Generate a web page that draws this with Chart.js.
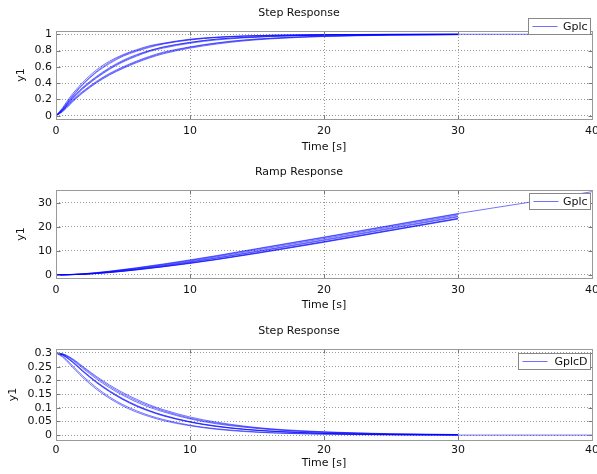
<!DOCTYPE html>
<html>
<head>
<meta charset="utf-8">
<script src="https://cdn.jsdelivr.net/npm/chart.js@4.4.0/dist/chart.umd.min.js"></script>
<style>
	body { margin: 0; background: #fff; }
	.plot { position: relative; width: 597px; height: 158px; }
</style>
</head>
<body>
<div class="plot"><canvas id="stepChart"></canvas></div>
<div class="plot"><canvas id="rampChart"></canvas></div>
<div class="plot"><canvas id="stepDChart"></canvas></div>
<script>
// tempos (s)
const tStep = [0, 0.5, 1, 1.5, 2, 3, 4, 5, 6, 7, 8, 10, 12, 14, 16, 18, 20, 25, 30];
const tStepLong = [0, 0.5, 1, 1.5, 2, 3, 4, 5, 6, 7, 8, 10, 12, 14, 16, 18, 20, 25, 30, 35, 40];
const tRamp = [0, 2, 4, 6, 8, 10, 12, 15, 20, 25, 30];
const tRampLong = [0, 2, 4, 6, 8, 10, 12, 15, 20, 25, 30, 35, 40];

const xTicks = [0, 10, 20, 30, 40];
const stepTicks = [0, 0.2, 0.4, 0.6, 0.8, 1];
const rampTicks = [0, 10, 20, 30];
const stepDTicks = [0, 0.05, 0.1, 0.15, 0.2, 0.25, 0.3];

// Step Response (Gplc)
const step1 = [0, 0.10, 0.22, 0.32, 0.41, 0.56, 0.67, 0.75, 0.81, 0.86, 0.89, 0.94, 0.965, 0.98, 0.988, 0.993, 0.996, 0.999, 1.0, 1.0, 1.0];
const step2 = [0, 0.08, 0.19, 0.29, 0.38, 0.53, 0.64, 0.73, 0.79, 0.84, 0.88, 0.93, 0.96, 0.975, 0.985, 0.99, 0.994, 0.998, 1.0];
const step3 = [0, 0.09, 0.20, 0.30, 0.39, 0.54, 0.655, 0.74, 0.80, 0.85, 0.885, 0.935, 0.962, 0.978, 0.987, 0.992, 0.995, 0.999, 1.0];
const step4 = [0, 0.07, 0.17, 0.26, 0.34, 0.47, 0.58, 0.67, 0.74, 0.80, 0.84, 0.90, 0.94, 0.96, 0.975, 0.985, 0.99, 0.997, 0.999];
const step5 = [0, 0.06, 0.16, 0.25, 0.33, 0.46, 0.57, 0.66, 0.73, 0.79, 0.83, 0.89, 0.93, 0.955, 0.972, 0.982, 0.988, 0.996, 0.999];
const step6 = [0, 0.08, 0.18, 0.27, 0.35, 0.48, 0.59, 0.68, 0.75, 0.80, 0.845, 0.90, 0.94, 0.962, 0.976, 0.985, 0.99, 0.997, 0.999];
const step7 = [0, 0.06, 0.14, 0.22, 0.29, 0.41, 0.51, 0.59, 0.66, 0.72, 0.77, 0.84, 0.89, 0.925, 0.948, 0.965, 0.976, 0.99, 0.996];
const step8 = [0, 0.05, 0.13, 0.21, 0.28, 0.40, 0.50, 0.58, 0.65, 0.71, 0.76, 0.83, 0.88, 0.918, 0.943, 0.96, 0.972, 0.988, 0.995];
const step9 = [0, 0.07, 0.15, 0.23, 0.30, 0.42, 0.52, 0.60, 0.67, 0.73, 0.78, 0.845, 0.895, 0.93, 0.952, 0.967, 0.978, 0.991, 0.997];

// Ramp Response (Gplc)
const ramp1 = [0, 0.5, 1.6, 3.0, 4.6, 6.3, 8.1, 11.0, 15.8, 20.7, 25.6, 30.0, 34.7];
const ramp2 = [0, 0.45, 1.5, 2.9, 4.4, 6.1, 7.9, 10.8, 15.6, 20.5, 25.4];
const ramp3 = [0, 0.4, 1.4, 2.7, 4.2, 5.8, 7.6, 10.4, 15.2, 20.1, 25.0];
const ramp4 = [0, 0.35, 1.3, 2.5, 3.9, 5.5, 7.2, 9.9, 14.7, 19.6, 24.5];
const ramp5 = [0, 0.33, 1.2, 2.4, 3.8, 5.3, 7.0, 9.7, 14.4, 19.3, 24.2];
const ramp6 = [0, 0.3, 1.1, 2.2, 3.5, 5.0, 6.6, 9.3, 13.9, 18.8, 23.6];
const ramp7 = [0, 0.28, 1.0, 2.1, 3.4, 4.8, 6.4, 9.0, 13.6, 18.5, 23.3];
const ramp8 = [0, 0.3, 1.05, 2.2, 3.5, 4.95, 6.5, 9.1, 13.8, 18.6, 23.5];

// Step Response (GplcD)
const stepD1 = [0.3, 0.285, 0.26, 0.235, 0.21, 0.168, 0.134, 0.106, 0.084, 0.067, 0.053, 0.034, 0.021, 0.013, 0.008, 0.005, 0.003, 0.001, 0, 0, 0];
const stepD2 = [0.3, 0.288, 0.265, 0.24, 0.216, 0.174, 0.139, 0.111, 0.089, 0.071, 0.057, 0.036, 0.023, 0.015, 0.009, 0.006, 0.004, 0.001, 0];
const stepD3 = [0.3, 0.292, 0.275, 0.254, 0.232, 0.192, 0.158, 0.129, 0.105, 0.086, 0.070, 0.047, 0.031, 0.021, 0.014, 0.009, 0.006, 0.002, 0.001];
const stepD4 = [0.3, 0.294, 0.278, 0.258, 0.236, 0.196, 0.162, 0.133, 0.109, 0.089, 0.073, 0.049, 0.033, 0.022, 0.015, 0.010, 0.007, 0.002, 0.001];
const stepD5 = [0.3, 0.293, 0.276, 0.256, 0.234, 0.194, 0.160, 0.131, 0.107, 0.088, 0.072, 0.048, 0.032, 0.021, 0.014, 0.010, 0.006, 0.002, 0.001];
const stepD6 = [0.3, 0.295, 0.282, 0.264, 0.244, 0.206, 0.173, 0.145, 0.121, 0.101, 0.085, 0.059, 0.041, 0.029, 0.020, 0.014, 0.010, 0.004, 0.001];
const stepD7 = [0.3, 0.296, 0.284, 0.267, 0.248, 0.211, 0.178, 0.150, 0.126, 0.106, 0.089, 0.062, 0.044, 0.031, 0.022, 0.015, 0.011, 0.004, 0.002];
const stepD8 = [0.3, 0.297, 0.286, 0.270, 0.251, 0.215, 0.183, 0.155, 0.131, 0.110, 0.093, 0.066, 0.047, 0.033, 0.023, 0.017, 0.012, 0.005, 0.002];

const FONT = 'DejaVu Sans';

const toPoints = (ts, ys) => ys.map((y, i) => ({ x: ts[i], y: y }));

const makeDatasets = (label, series) => series.map(([ts, ys], i) => ({
	label: label,
	data: toPoints(ts, ys),
	borderColor: 'rgba(0,0,255,0.55)',
	borderWidth: 1,
	pointRadius: 0,
	cubicInterpolationMode: 'monotone',
	fill: false
}));

const fmt = v => String(+Number(v).toFixed(2));

// moldura, marcas dos eixos e legenda em caixa
const framePlugin = {
	id: 'frame',
	afterDraw(chart, args, opts) {
		const { ctx, chartArea: a, scales } = chart;
		const L = Math.round(a.left) + 0.5, R = Math.round(a.right) + 0.5;
		const T = Math.round(a.top) + 0.5, B = Math.round(a.bottom) + 0.5;
		ctx.save();
		ctx.setLineDash([]);
		ctx.strokeStyle = '#777';
		ctx.lineWidth = 1;
		ctx.beginPath();
		scales.x.ticks.forEach(t => {
			const px = Math.round(scales.x.getPixelForValue(t.value)) + 0.5;
			ctx.moveTo(px, B); ctx.lineTo(px, B - 4);
			ctx.moveTo(px, T); ctx.lineTo(px, T + 4);
		});
		scales.y.ticks.forEach(t => {
			const py = Math.round(scales.y.getPixelForValue(t.value)) + 0.5;
			ctx.moveTo(L, py); ctx.lineTo(L + 4, py);
			ctx.moveTo(R, py); ctx.lineTo(R - 4, py);
		});
		ctx.stroke();
		ctx.strokeStyle = '#999';
		ctx.strokeRect(L, T, R - L, B - T);

		// legenda
		const w = opts.w, h = 16;
		const bx = Math.round(a.right - 2 - w) + 0.5;
		const by = Math.round(a.top + opts.dy) + 0.5;
		ctx.fillStyle = '#fff';
		ctx.fillRect(bx, by, w, h);
		ctx.strokeStyle = '#888';
		ctx.strokeRect(bx, by, w, h);
		ctx.strokeStyle = 'rgb(110,110,255)';
		ctx.beginPath();
		ctx.moveTo(bx + 4, by + h / 2);
		ctx.lineTo(bx + 29, by + h / 2);
		ctx.stroke();
		ctx.fillStyle = '#111';
		ctx.font = '11px "' + FONT + '"';
		ctx.textBaseline = 'middle';
		ctx.textAlign = 'right';
		ctx.fillText(chart.data.datasets[0].label, bx + w - 3, by + h / 2 + 1);
		ctx.restore();
	}
};

const createChart = (contextId, title, datasets, yMin, yMax, yTicks, lay) => {
	let ctx = document.getElementById(contextId).getContext('2d');
	return new Chart(ctx, {
		type: 'line',
		data: { datasets: datasets },
		plugins: [framePlugin],
		options: {
			responsive: true,
			maintainAspectRatio: false,
			animation: false,
			layout: { padding: { left: 6, right: 5, top: 0, bottom: 0 } },
			plugins: {
				legend: { display: false },
				tooltip: { enabled: false },
				title: {
					display: true,
					text: title,
					color: '#111',
					font: { family: FONT, size: 11, weight: 'normal' },
					padding: { top: lay.titleTop, bottom: lay.titleBottom }
				},
				frame: { w: lay.legendW, dy: lay.legendDy }
			},
			scales: {
				x: {
					type: 'linear',
					min: 0,
					max: 40,
					afterBuildTicks: s => { s.ticks = xTicks.map(v => ({ value: v })); },
					afterFit: s => { s.height = lay.xHeight; s.paddingLeft = 0; s.paddingRight = 0; },
					grid: { color: '#999', drawTicks: false },
					border: { display: false, dash: [1, 2] },
					ticks: { color: '#111', padding: lay.xTickPad, maxRotation: 0, autoSkip: false, callback: fmt, font: { family: FONT, size: 11 } },
					title: { display: true, text: 'Time [s]', color: '#111', padding: { top: 0, bottom: 4 }, font: { family: FONT, size: 11 } }
				},
				y: {
					min: yMin,
					max: yMax,
					afterBuildTicks: s => { s.ticks = yTicks.map(v => ({ value: v })); },
					afterFit: s => { s.width = 50; s.paddingTop = 0; s.paddingBottom = 0; },
					grid: { color: '#999', drawTicks: false },
					border: { display: false, dash: [1, 2] },
					ticks: { color: '#111', padding: 4, autoSkip: false, callback: fmt, font: { family: FONT, size: 11 } },
					title: { display: true, text: 'y1', color: '#111', padding: { top: lay.yTitlePad, bottom: 0 }, font: { family: FONT, size: 11 } }
				}
			}
		}
	});
};

createChart('stepChart', 'Step Response',
	makeDatasets('Gplc', [[tStepLong, step1], [tStep, step2], [tStep, step3], [tStep, step4], [tStep, step5], [tStep, step6], [tStep, step7], [tStep, step8], [tStep, step9]]),
	-0.04, 1.04, stepTicks,
	{ titleTop: 7, titleBottom: 10.8, xHeight: 39, xTickPad: 6, yTitlePad: 9, legendW: 62, legendDy: -13 });

createChart('rampChart', 'Ramp Response',
	makeDatasets('Gplc', [[tRampLong, ramp1], [tRamp, ramp2], [tRamp, ramp3], [tRamp, ramp4], [tRamp, ramp5], [tRamp, ramp6], [tRamp, ramp7], [tRamp, ramp8]]),
	-1.25, 35.4, rampTicks,
	{ titleTop: 8, titleBottom: 10.8, xHeight: 38, xTickPad: 6, yTitlePad: 9, legendW: 61, legendDy: 3 });

createChart('stepDChart', 'Step Response',
	makeDatasets('GplcD', [[tStepLong, stepD1], [tStep, stepD2], [tStep, stepD3], [tStep, stepD4], [tStep, stepD5], [tStep, stepD6], [tStep, stepD7], [tStep, stepD8]]),
	-0.018, 0.3146, stepDTicks,
	{ titleTop: 9, titleBottom: 10.8, xHeight: 34, xTickPad: 4, yTitlePad: 1, legendW: 72, legendDy: 4 });
</script>
</body>
</html>
